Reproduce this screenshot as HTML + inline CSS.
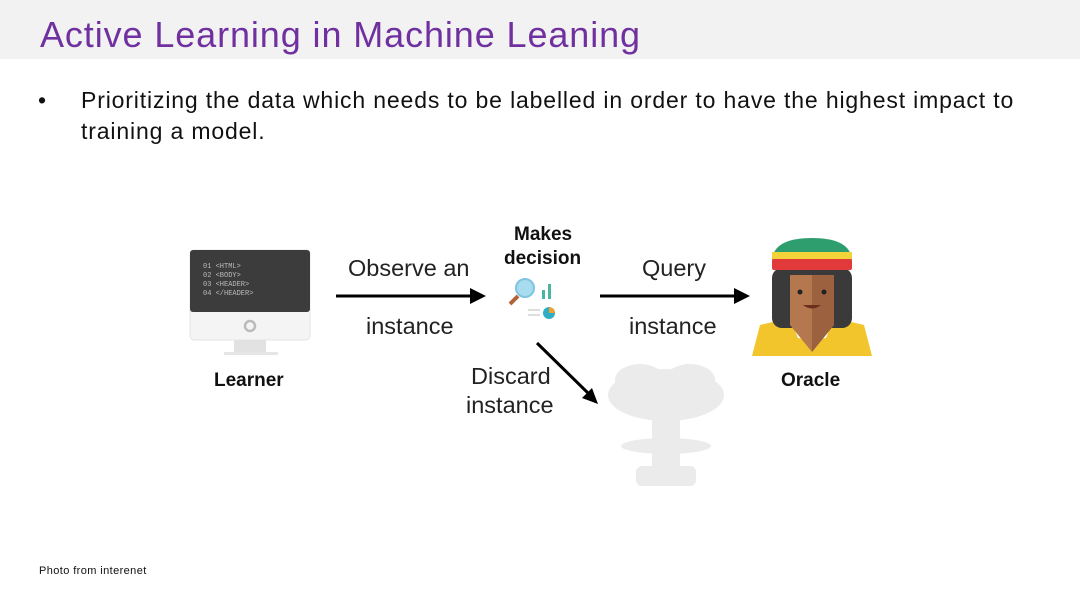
<!DOCTYPE html>
<html><head><style>
body{margin:0;width:1080px;height:608px;background:#fff;position:relative;overflow:hidden;font-family:"Liberation Sans",sans-serif}
.band{position:absolute;left:0;top:0;width:1080px;height:59px;background:#f2f2f2}
.title{position:absolute;left:40px;top:14px;font-size:36px;color:#7030a0;white-space:nowrap;letter-spacing:0.9px}
.b{position:absolute;font-size:23px;color:#111;white-space:nowrap;letter-spacing:0.85px}
.t{position:absolute;font-size:23.5px;color:#222;white-space:nowrap}
.bold{position:absolute;font-weight:bold;font-size:19px;color:#111;white-space:nowrap}
</style></head><body>
<div class="band"></div>
<div class="title">Active Learning in Machine Leaning</div>
<div class="b" style="left:38px;top:87px">•</div>
<div class="b" style="left:81px;top:87px">Prioritizing the data which needs to be labelled in order to have the highest impact to</div>
<div class="b" style="left:81px;top:118px">training a model.</div>

<svg style="position:absolute;left:0;top:0" width="1080" height="608">
<rect x="190" y="250" width="120" height="90" rx="4" fill="#f4f4f4" stroke="#e4e4e4"/>
<rect x="190" y="250" width="120" height="62" rx="3" fill="#3c3c3c"/>
<circle cx="250" cy="326" r="5" fill="none" stroke="#bbb" stroke-width="2.5"/>
<rect x="234" y="340" width="32" height="13" fill="#e2e2e2"/>
<rect x="224" y="352" width="54" height="3" fill="#e6e6e6"/>
<g font-family="Liberation Mono,monospace" font-size="7" fill="#bbb">
<text x="203" y="268">01 &lt;HTML&gt;</text><text x="203" y="277">02 &lt;BODY&gt;</text>
<text x="203" y="286">03 &lt;HEADER&gt;</text><text x="203" y="295">04 &lt;/HEADER&gt;</text></g>
<line x1="336" y1="296" x2="472" y2="296" stroke="#000" stroke-width="3"/>
<polygon points="470,288 486,296 470,304" fill="#000"/>
<line x1="600" y1="296" x2="736" y2="296" stroke="#000" stroke-width="3"/>
<polygon points="734,288 750,296 734,304" fill="#000"/>
<line x1="537" y1="343" x2="589" y2="394" stroke="#000" stroke-width="3"/>
<polygon points="582,398 598,404 592,388" fill="#000"/>
<circle cx="525" cy="288" r="9" fill="#a8dcef" stroke="#7fc4e0" stroke-width="2"/>
<line x1="518" y1="296" x2="510" y2="304" stroke="#b0623a" stroke-width="4"/>
<rect x="542" y="290" width="3" height="9" fill="#4ab6a0"/><rect x="548" y="284" width="3" height="15" fill="#4ab6a0"/>
<circle cx="549" cy="313" r="6" fill="#2eaec6"/><path d="M549 313 L549 307 A6 6 0 0 1 555 313Z" fill="#f0a030"/>
<rect x="528" y="309" width="12" height="2" fill="#ddd"/><rect x="528" y="314" width="12" height="2" fill="#ddd"/>
<path d="M752 356 L760 325 L790 318 L812 340 L834 318 L864 325 L872 356Z" fill="#f1c52b"/>
<path d="M790 318 L812 345 L834 318 L826 338 L812 340 L798 338Z" fill="#fff"/>
<rect x="772" y="268" width="80" height="60" rx="10" fill="#3a3a3a"/>
<path d="M790 275 L834 275 L834 325 L812 352 L790 325Z" fill="#b5774e"/>
<path d="M812 275 L834 275 L834 325 L812 352Z" fill="#9c6240"/>
<circle cx="800" cy="292" r="2.5" fill="#222"/><circle cx="824" cy="292" r="2.5" fill="#222"/>
<path d="M803 305 Q812 312 821 305Z" fill="#6b2e1a"/>
<path d="M772 262 Q772 238 812 238 Q852 238 852 262Z" fill="#2f9e6e"/>
<rect x="772" y="252" width="80" height="7" fill="#f4d33a"/>
<rect x="772" y="259" width="80" height="11" rx="2" fill="#e23a3a"/>
<g fill="#ebebeb">
<ellipse cx="666" cy="395" rx="58" ry="26"/>
<ellipse cx="640" cy="380" rx="25" ry="16"/><ellipse cx="690" cy="380" rx="25" ry="16"/>
<rect x="652" y="410" width="28" height="60"/>
<ellipse cx="666" cy="446" rx="45" ry="8"/>
<rect x="636" y="466" width="60" height="20" rx="6"/>
</g>
</svg>
<div class="bold" style="left:514px;top:224px">Makes</div>
<div class="bold" style="left:504px;top:248px">decision</div>
<div class="bold" style="left:214px;top:370px">Learner</div>
<div class="bold" style="left:781px;top:370px">Oracle</div>
<div class="t" style="left:348px;top:255px">Observe an</div>
<div class="t" style="left:366px;top:313px">instance</div>
<div class="t" style="left:642px;top:255px">Query</div>
<div class="t" style="left:629px;top:313px">instance</div>
<div class="t" style="left:471px;top:363px">Discard</div>
<div class="t" style="left:466px;top:392px">instance</div>
<div style="position:absolute;left:39px;top:565px;font-size:11px;color:#111;letter-spacing:0.4px">Photo from interenet</div>
</body></html>
